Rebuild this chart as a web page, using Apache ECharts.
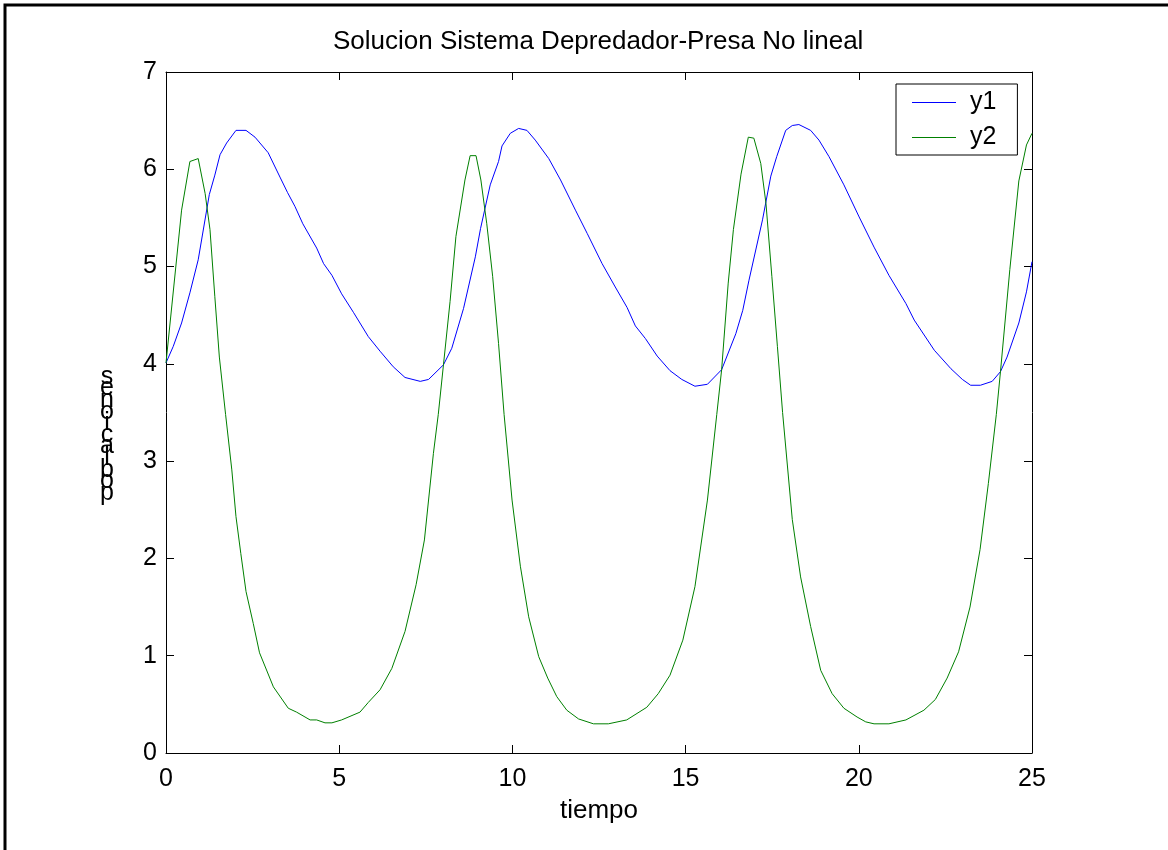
<!DOCTYPE html>
<html>
<head>
<meta charset="utf-8">
<title>Solucion Sistema Depredador-Presa No lineal</title>
<script src="https://cdn.jsdelivr.net/npm/echarts@6/dist/echarts.min.js"></script>
<style>
  html, body { margin: 0; padding: 0; background: #fff; }
  #chart { width: 1168px; height: 850px; }
</style>
</head>
<body>
<div id="chart"></div>
<script>
// Time samples and solution values of the predator-prey system
const t1 = [0, 0.21, 0.45, 0.69, 0.93, 1.25, 1.41, 1.56, 1.75, 2.02,
  2.31, 2.57, 2.95, 3.29, 3.51, 3.72, 3.95, 4.35, 4.55, 4.79,
  5.07, 5.41, 5.84, 6.18, 6.56, 6.90, 7.34, 7.58, 8.01, 8.25,
  8.59, 8.93, 9.08, 9.36, 9.60, 9.70, 9.94, 10.18, 10.42, 10.66,
  11.05, 11.39, 11.82, 12.16, 12.59, 12.97, 13.31, 13.55, 13.84, 14.18,
  14.55, 14.89, 15.27, 15.63, 16.04, 16.45, 16.65, 16.83, 17.22, 17.46,
  17.63, 17.89, 18.08, 18.27, 18.61, 18.85, 19.14, 19.57, 20.01, 20.44,
  20.87, 21.36, 21.60, 22.18, 22.66, 22.99, 23.23, 23.51, 23.85, 24.09,
  24.28, 24.62, 24.84, 25.0];
const y1 = [4.01, 4.18, 4.42, 4.73, 5.07, 5.74, 5.94, 6.15, 6.27, 6.40,
  6.40, 6.33, 6.17, 5.92, 5.76, 5.62, 5.44, 5.19, 5.03, 4.91,
  4.72, 4.53, 4.28, 4.13, 3.97, 3.86, 3.82, 3.84, 3.99, 4.16,
  4.57, 5.10, 5.39, 5.84, 6.08, 6.24, 6.37, 6.42, 6.40, 6.30,
  6.11, 5.89, 5.58, 5.34, 5.03, 4.79, 4.58, 4.39, 4.26, 4.08,
  3.93, 3.84, 3.77, 3.79, 3.94, 4.31, 4.55, 4.86, 5.48, 5.93,
  6.13, 6.40, 6.45, 6.46, 6.40, 6.30, 6.13, 5.84, 5.51, 5.20,
  4.91, 4.62, 4.45, 4.14, 3.95, 3.84, 3.78, 3.78, 3.82, 3.92,
  4.07, 4.42, 4.74, 5.05];

const t2 = [0, 0.45, 0.69, 0.93, 1.13, 1.27, 1.41, 1.54, 1.72, 1.90,
  2.02, 2.16, 2.31, 2.52, 2.70, 3.10, 3.53, 3.77, 4.16, 4.35,
  4.59, 4.79, 5.07, 5.60, 5.84, 6.18, 6.52, 6.90, 7.22, 7.46,
  7.72, 7.86, 8.01, 8.20, 8.37, 8.63, 8.78, 8.95, 9.09, 9.26,
  9.43, 9.60, 9.76, 9.99, 10.23, 10.47, 10.76, 11.02, 11.28, 11.57,
  11.91, 12.34, 12.77, 13.30, 13.88, 14.21, 14.55, 14.92, 15.27, 15.63,
  15.90, 16.04, 16.23, 16.38, 16.60, 16.81, 16.97, 17.17, 17.32, 17.49,
  17.65, 17.80, 18.08, 18.32, 18.61, 18.90, 19.23, 19.57, 19.95, 20.20,
  20.44, 20.87, 21.36, 21.88, 22.21, 22.55, 22.88, 23.21, 23.50, 23.74,
  23.97, 24.09, 24.36, 24.62, 24.84, 25.0];
const y2 = [4.01, 5.58, 6.08, 6.11, 5.75, 5.38, 4.69, 4.07, 3.48, 2.91,
  2.43, 2.05, 1.66, 1.33, 1.03, 0.68, 0.46, 0.42, 0.34, 0.34,
  0.31, 0.31, 0.34, 0.42, 0.52, 0.65, 0.87, 1.25, 1.73, 2.19,
  3.08, 3.48, 3.99, 4.64, 5.31, 5.89, 6.14, 6.14, 5.89, 5.44,
  4.90, 4.21, 3.48, 2.60, 1.92, 1.40, 0.99, 0.77, 0.58, 0.44,
  0.35, 0.30, 0.30, 0.34, 0.47, 0.61, 0.80, 1.16, 1.71, 2.60,
  3.48, 3.94, 4.83, 5.38, 5.95, 6.33, 6.32, 6.06, 5.65, 4.90,
  4.18, 3.50, 2.40, 1.81, 1.30, 0.85, 0.61, 0.46, 0.37, 0.32,
  0.30, 0.30, 0.34, 0.44, 0.55, 0.77, 1.04, 1.50, 2.09, 2.77,
  3.48, 3.92, 4.97, 5.88, 6.25, 6.37];

const seriesNames = ['y1', 'y2'];
const titleText = 'Solucion Sistema Depredador-Presa No lineal';
const xLabel = 'tiempo';
const yLabel = 'poblaciones';

const FONT = "'Liberation Sans', Arial, Helvetica, sans-serif";
const zip = (xs, ys) => xs.map((x, i) => [x, ys[i]]);

const chart = echarts.init(document.getElementById('chart'), null, { renderer: 'canvas' });

const boxLine = { show: true, onZero: false, lineStyle: { color: '#000', width: 1 } };
const tickIn = { show: true, inside: true, length: 8, lineStyle: { color: '#000', width: 1 } };
const labelStyle = { color: '#000', fontSize: 25, fontFamily: FONT };

// y label: upright glyphs stacked from bottom to top
const stacked = yLabel.split('').reverse().join('\n');

chart.setOption({
  animation: false,
  backgroundColor: '#fff',
  title: {
    text: titleText,
    left: 333,
    top: 29,
    padding: 0,
    textStyle: { color: '#000', fontSize: 26, fontWeight: 'normal', fontFamily: FONT }
  },
  legend: {
    data: seriesNames.map(n => ({ name: n, icon: 'rect' })),
    orient: 'vertical',
    left: 896,
    top: 84,
    padding: [6, 21, 5, 16],
    itemGap: 10,
    itemWidth: 44,
    itemHeight: 1,
    borderColor: '#000',
    borderWidth: 1,
    backgroundColor: '#fff',
    textStyle: { color: '#000', fontSize: 25, fontFamily: FONT, padding: [0, 0, 0, 9] }
  },
  grid: { left: 166, right: 136, top: 72, bottom: 97, containLabel: false },
  xAxis: [
    {
      type: 'value', min: 0, max: 25, interval: 5, position: 'bottom',
      axisLine: boxLine, axisTick: tickIn, splitLine: { show: false },
      axisLabel: Object.assign({ margin: 14 }, labelStyle),
      name: xLabel, nameLocation: 'middle', nameGap: 45,
      nameTextStyle: { color: '#000', fontSize: 26, fontFamily: FONT }
    },
    {
      type: 'value', min: 0, max: 25, interval: 5, position: 'top',
      axisLine: boxLine, axisTick: tickIn, splitLine: { show: false },
      axisLabel: { show: false }
    }
  ],
  yAxis: [
    {
      type: 'value', min: 0, max: 7, interval: 1, position: 'left',
      axisLine: boxLine, axisTick: tickIn, splitLine: { show: false },
      axisLabel: Object.assign({ margin: 9 }, labelStyle)
    },
    {
      type: 'value', min: 0, max: 7, interval: 1, position: 'right',
      axisLine: boxLine, axisTick: tickIn, splitLine: { show: false },
      axisLabel: { show: false }
    }
  ],
  series: [
    {
      name: seriesNames[0], type: 'line', xAxisIndex: 0, yAxisIndex: 0,
      data: zip(t1, y1), symbol: 'none', smooth: false,
      color: '#0000ff', lineStyle: { color: '#0000ff', width: 1 }
    },
    {
      name: seriesNames[1], type: 'line', xAxisIndex: 0, yAxisIndex: 0,
      data: zip(t2, y2), symbol: 'none', smooth: false,
      color: '#008000', lineStyle: { color: '#008000', width: 1 }
    }
  ],
  graphic: [
    {
      type: 'rect', silent: true, z: -1,
      shape: { x: 5, y: 5, width: 1400, height: 1200 },
      style: { fill: 'none', stroke: '#000', lineWidth: 3 }
    },
    {
      type: 'text', silent: true,
      x: 107, y: 435,
      style: {
        text: stacked,
        fill: '#000',
        font: '25px ' + FONT,
        lineHeight: 11.6,
        textAlign: 'center',
        textVerticalAlign: 'middle'
      }
    }
  ]
});
</script>
</body>
</html>
